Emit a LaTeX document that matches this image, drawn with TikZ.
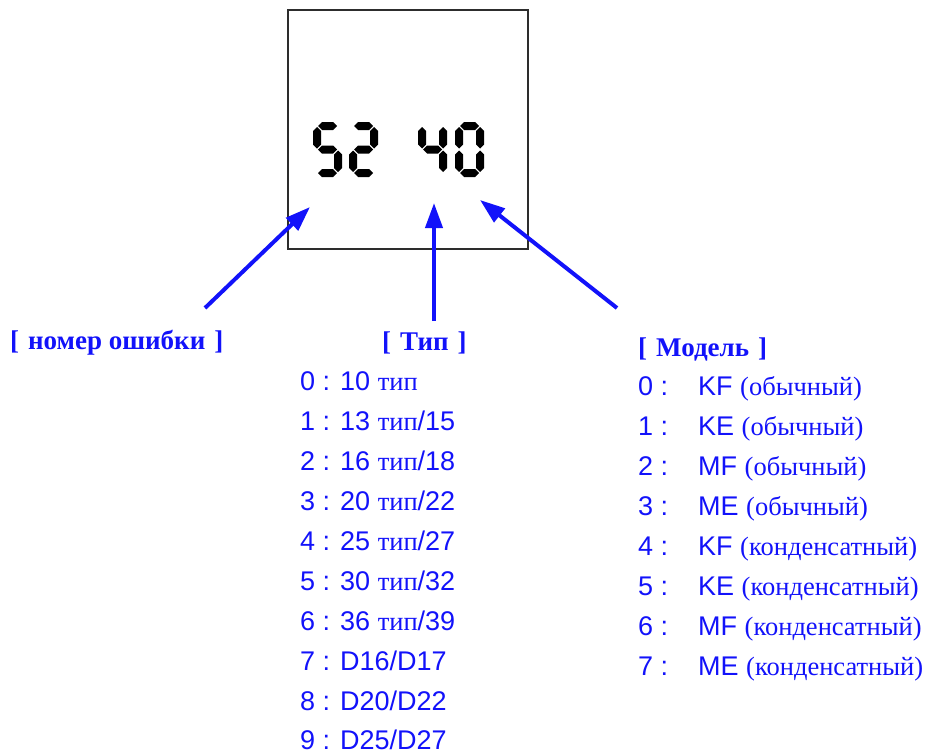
\documentclass[tikz,border=0pt]{standalone}
\usepackage{fontspec}
\setmainfont{Liberation Sans}
\newfontfamily\rufont{Liberation Serif}
\usetikzlibrary{arrows.meta}
\definecolor{lblue}{RGB}{18,18,250}
\definecolor{boxgray}{RGB}{45,45,45}
\newcommand\ru[1]{{\rufont\fontsize{26.5}{30}\selectfont #1}}
\tikzset{
  hdr/.style={anchor=base west, inner sep=0pt, text=lblue, font=\rufont\bfseries\fontsize{27}{30}\selectfont},
  item/.style={anchor=base west, inner sep=0pt, text=lblue, font=\fontsize{27}{30}\selectfont},
  ptr/.style={draw=lblue, line width=4pt, -{Triangle[length=25pt,width=17pt]}},
  segfill/.style={fill=black},
}
\newcommand\segA{\fill[segfill] (5,4) -- (9,0) -- (20,0) -- (24,4) -- (20,8) -- (9,8) -- cycle;}
\newcommand\segG{\fill[segfill] (5,27.5) -- (9,23.5) -- (20,23.5) -- (24,27.5) -- (20,31.5) -- (9,31.5) -- cycle;}
\newcommand\segD{\fill[segfill] (5,51) -- (9,47) -- (20,47) -- (24,51) -- (20,55) -- (9,55) -- cycle;}
\newcommand\segF{\fill[segfill] (4,5) -- (8,9) -- (8,22.5) -- (4,26.5) -- (0,22.5) -- (0,9) -- cycle;}
\newcommand\segB{\fill[segfill] (25,5) -- (29,9) -- (29,22.5) -- (25,26.5) -- (21,22.5) -- (21,9) -- cycle;}
\newcommand\segE{\fill[segfill] (4,28.5) -- (8,32.5) -- (8,46) -- (4,50) -- (0,46) -- (0,32.5) -- cycle;}
\newcommand\segC{\fill[segfill] (25,28.5) -- (29,32.5) -- (29,46) -- (25,50) -- (21,46) -- (21,32.5) -- cycle;}
\begin{document}
\begin{tikzpicture}[x=1pt,y=-1pt]
\useasboundingbox (0,0) rectangle (925,753);
% display box
\node (box) [draw=boxgray, line width=2pt, minimum width=240pt, minimum height=239pt, inner sep=0pt, anchor=north west] at (287,9) {};
% seven-segment digits "52 40"
\begin{scope}[shift={(313,122)}]\segA\segF\segG\segC\segD\end{scope}
\begin{scope}[shift={(349,122)}]\segA\segB\segG\segE\segD\end{scope}
\begin{scope}[shift={(418,122)}]\segF\segG\segB\segC\end{scope}
\begin{scope}[shift={(455,122)}]\segA\segB\segC\segD\segE\segF\end{scope}
% arrow anchors
\coordinate (t1) at (205,308);
\coordinate (h1) at (310,207);
\coordinate (t2) at (434,321);
\coordinate (h2) at (434,203);
\coordinate (t3) at (617,308);
\coordinate (h3) at (480,200);
\draw[ptr] (t1) -- (h1);
\draw[ptr] (t2) -- (h2);
\draw[ptr] (t3) -- (h3);
% headers
\node (herr) [hdr] at (10,349) {[\,\,номер ошибки\,\,]};
\node (htyp) [hdr] at (382,350) {[\,\,Тип\,\,]};
\node (hmod) [hdr] at (638,356) {[\,\,Модель\,\,]};
% type list
\node (ty0) [item] at (300,390) {0 : 10 \ru{тип}};
\node (ty1) [item] at (300,430) {1 : 13 \ru{тип}/15};
\node (ty2) [item] at (300,470) {2 : 16 \ru{тип}/18};
\node (ty3) [item] at (300,510) {3 : 20 \ru{тип}/22};
\node (ty4) [item] at (300,550) {4 : 25 \ru{тип}/27};
\node (ty5) [item] at (300,590) {5 : 30 \ru{тип}/32};
\node (ty6) [item] at (300,630) {6 : 36 \ru{тип}/39};
\node (ty7) [item] at (300,670) {7 : D16/D17};
\node (ty8) [item] at (300,710) {8 : D20/D22};
\node (ty9) [item] at (300,749) {9 : D25/D27};
% model list
\node (md0) [item] at (638,395) {\makebox[60pt][l]{0 :}KF \ru{(обычный)}};
\node (md1) [item] at (638,435) {\makebox[60pt][l]{1 :}KE \ru{(обычный)}};
\node (md2) [item] at (638,475) {\makebox[60pt][l]{2 :}MF \ru{(обычный)}};
\node (md3) [item] at (638,515) {\makebox[60pt][l]{3 :}ME \ru{(обычный)}};
\node (md4) [item] at (638,555) {\makebox[60pt][l]{4 :}KF \ru{(конденсатный)}};
\node (md5) [item] at (638,595) {\makebox[60pt][l]{5 :}KE \ru{(конденсатный)}};
\node (md6) [item] at (638,635) {\makebox[60pt][l]{6 :}MF \ru{(конденсатный)}};
\node (md7) [item] at (638,675) {\makebox[60pt][l]{7 :}ME \ru{(конденсатный)}};
\end{tikzpicture}
\end{document}
